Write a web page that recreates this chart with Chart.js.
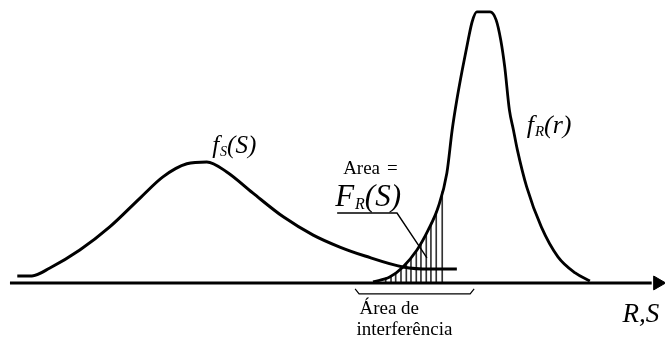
<!DOCTYPE html>
<html>
<head>
<meta charset="utf-8">
<script src="https://cdn.jsdelivr.net/npm/chart.js@4.4.1/dist/chart.umd.min.js"></script>
<style>
  html, body { margin: 0; padding: 0; background: #fff; }
  #wrap { width: 665px; height: 342px; }
</style>
</head>
<body>
<div id="wrap"><canvas id="c" width="665" height="342"></canvas></div>
<script>
// Load (S) density f_S(s): x = value of R,S, y = density (arbitrary units)
const fsX = [2.6, 4.8, 7.5, 12.0, 16.5, 21.1, 24.5, 28.1, 31.1, 34.1, 38.0, 42.6, 47.1, 51.1, 54.9, 60.6, 64.7, 68.7];
const fsY = [2.6, 2.6, 5.5, 12.1, 20.6, 31.3, 39.0, 43.8, 44.5, 40.8, 33.1, 24.3, 17.6, 13.2, 9.9, 5.9, 5.1, 5.1];

// Resistance (R) density f_R(r)
const frX = [56.1, 58.6, 60.6, 62.7, 64.4, 65.9, 67.2, 68.0, 68.7, 69.6, 70.4, 71.0, 71.7, 73.7, 74.6, 75.3, 75.9, 76.6, 77.2, 77.8, 79.2, 81.4, 83.9, 86.5, 88.7];
const frY = [0.4, 2.2, 5.9, 12.1, 19.5, 27.9, 40.4, 56.3, 67.3, 79.4, 89.3, 96.0, 99.6, 99.6, 96.7, 89.3, 79.4, 63.6, 56.3, 48.9, 35.3, 20.6, 9.6, 3.7, 0.7];

// Hatching of the area F_R(s) under f_R up to s
const hatchX   = [58.0, 58.8, 59.5, 60.3, 61.1, 61.8, 62.6, 63.3, 64.1, 64.8, 65.6, 66.5];
const hatchTop = [1.8, 2.4, 3.9, 5.3, 7.2, 9.4, 11.7, 14.8, 18.2, 22.0, 26.3, 33.5];

// Horizontal axis R,S (from / to) and arrow tip
const axisX = [1.5, 98.0];
const arrowX = 98.9;

// Bracket marking the interference zone
const braceX = [53.4, 54.0, 70.7, 71.3];
const braceY = [-2.2, -4.0, -4.0, -2.2];

// Leader line from the "Area = F_R(s)" note to the hatched area
const leaderX = [50.7, 59.7, 64.2];
const leaderY = [25.7, 25.7, 9.2];

// Texts
const labelFs = ['f', 'S', '(S)'];
const labelFr = ['f', 'R', '(r)'];
const labelArea = ['Area', '='];
const labelFR = ['F', 'R', '(S)'];
const labelZone = ['Área de', 'interferência'];
const labelAxis = 'R,S';

const pts = (xs, ys) => xs.map((x, i) => ({ x: x, y: ys[i] }));

const SERIF = '"Liberation Serif", "DejaVu Serif", serif';

// Where each text block is anchored, in data units
const textLayout = {
  fs:   { x: 31.9, y: 47.8, size: 25, sub: 14 },
  fr:   { x: 79.2, y: 55.1, size: 26, sub: 15 },
  area: { x: 51.6, y: 40.0, size: 19, gap: 7 },
  FR:   { x: 50.4, y: 28.3, size: 31, sub: 16 },
  zone: { x: 53.6, y: -11.4, size: 19, lead: 21 },
  axis: { x: 93.6, y: -14.3, size: 27 }
};

// Draws "main + subscript + rest" math-like labels and plain text notes
const textPlugin = {
  id: 'texts',
  afterDatasetsDraw(chart) {
    const ctx = chart.ctx;
    const sx = chart.scales.x, sy = chart.scales.y;
    ctx.save();
    ctx.fillStyle = '#000';
    ctx.textBaseline = 'alphabetic';
    ctx.textAlign = 'left';

    function mathLabel(parts, L) {
      let px = sx.getPixelForValue(L.x);
      const py = sy.getPixelForValue(L.y);
      ctx.font = 'italic ' + L.size + 'px ' + SERIF;
      ctx.fillText(parts[0], px, py);
      px += ctx.measureText(parts[0]).width + 1;
      ctx.font = 'italic ' + L.sub + 'px ' + SERIF;
      ctx.fillText(parts[1], px, py + 3);
      px += ctx.measureText(parts[1]).width;
      ctx.font = 'italic ' + L.size + 'px ' + SERIF;
      ctx.fillText(parts[2], px, py);
    }

    mathLabel(labelFs, textLayout.fs);
    mathLabel(labelFr, textLayout.fr);
    mathLabel(labelFR, textLayout.FR);

    let L = textLayout.area;
    ctx.font = L.size + 'px ' + SERIF;
    const ax = sx.getPixelForValue(L.x), ay = sy.getPixelForValue(L.y);
    ctx.fillText(labelArea[0], ax, ay);
    ctx.fillText(labelArea[1], ax + ctx.measureText(labelArea[0]).width + L.gap, ay);

    L = textLayout.zone;
    ctx.font = L.size + 'px ' + SERIF;
    labelZone.forEach((t, i) => {
      ctx.fillText(t, sx.getPixelForValue(L.x) + (i === 0 ? 3 : 0), sy.getPixelForValue(L.y) + i * L.lead);
    });

    L = textLayout.axis;
    ctx.font = 'italic ' + L.size + 'px ' + SERIF;
    ctx.fillText(labelAxis, sx.getPixelForValue(L.x), sy.getPixelForValue(L.y));
    ctx.restore();
  }
};

const curve = {
  showLine: true, pointRadius: 0, pointHoverRadius: 0, borderColor: '#000', backgroundColor: '#000',
  borderWidth: 3, cubicInterpolationMode: 'monotone', order: 1, clip: false
};

new Chart(document.getElementById('c'), {
  type: 'scatter',
  data: {
    datasets: [
      Object.assign({}, curve, { label: 'fS', data: pts(fsX, fsY) }),
      Object.assign({}, curve, { label: 'fR', data: pts(frX, frY), borderWidth: 2.8 }),
      { type: 'bar', label: 'hatch', data: pts(hatchX, hatchTop), backgroundColor: '#333',
        barThickness: 1, order: 5 },
      { label: 'axis', data: pts(axisX, [0, 0]), showLine: true, pointRadius: 0, pointHoverRadius: 0,
        borderColor: '#000', borderWidth: 3, tension: 0, order: 2, clip: false },
      { label: 'arrow', data: [{ x: arrowX, y: 0 }], showLine: false, pointStyle: 'triangle',
        rotation: 90, pointRadius: 8, pointHoverRadius: 8, backgroundColor: '#000', borderColor: '#000',
        borderWidth: 1, order: 2, clip: false },
      { label: 'brace', data: pts(braceX, braceY), showLine: true, pointRadius: 0, pointHoverRadius: 0,
        borderColor: '#000', borderWidth: 1.2, tension: 0, order: 2 },
      { label: 'leader', data: pts(leaderX, leaderY), showLine: true, pointRadius: 0, pointHoverRadius: 0,
        borderColor: '#000', borderWidth: 1.4, tension: 0, order: 2 }
    ]
  },
  options: {
    responsive: false,
    animation: false,
    devicePixelRatio: 1,
    events: [],
    layout: { padding: 0, autoPadding: false },
    plugins: { legend: { display: false }, tooltip: { enabled: false } },
    scales: {
      x: { type: 'linear', min: 0, max: 100, display: false, offset: false },
      y: { type: 'linear', min: -21.7, max: 104.0, display: false }
    }
  },
  plugins: [textPlugin]
});
</script>
</body>
</html>
